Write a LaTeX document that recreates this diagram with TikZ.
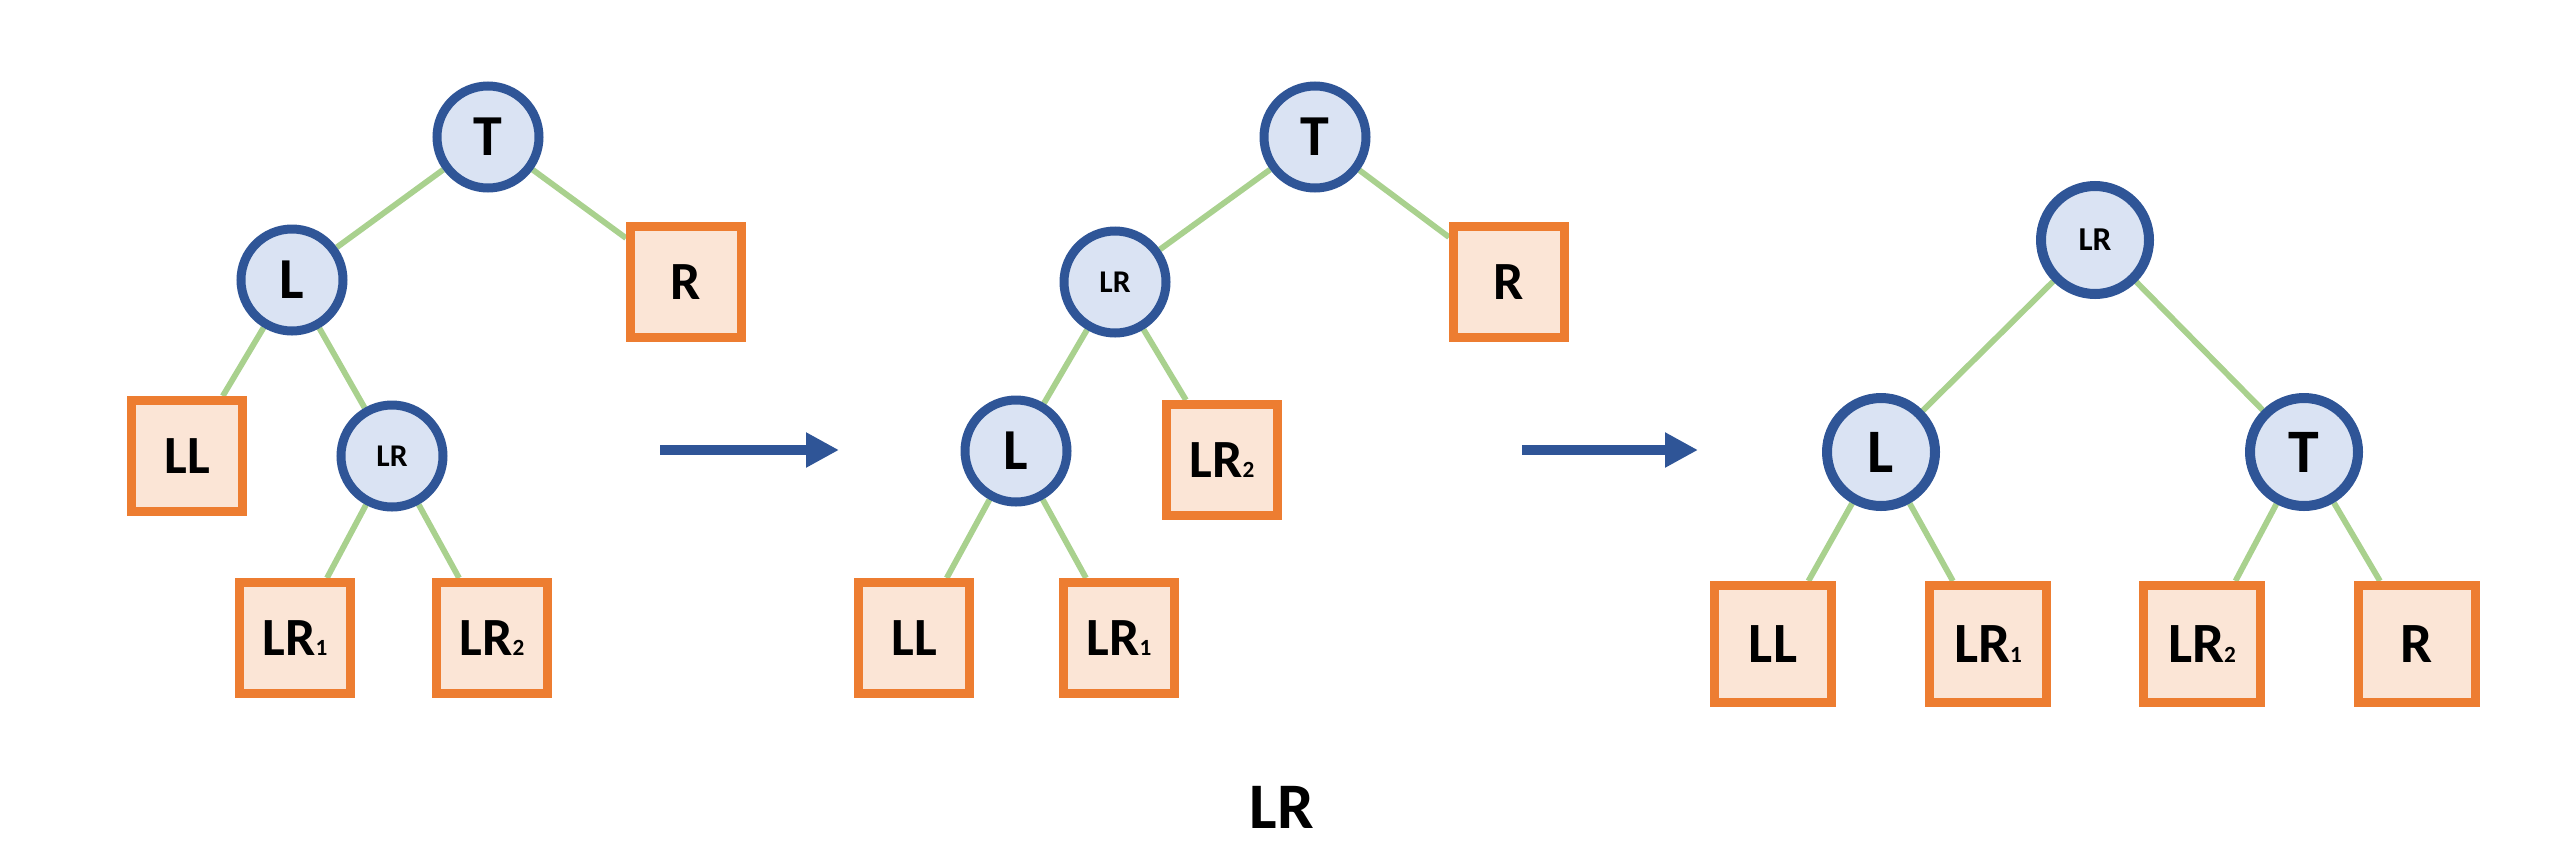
\documentclass[tikz,border=0pt]{standalone}
\usepackage{fontspec}
\setmainfont{Carlito}
\usetikzlibrary{arrows.meta,backgrounds}
\definecolor{knotc}{HTML}{2F5597}
\definecolor{knotfill}{HTML}{DAE3F3}
\definecolor{leafc}{HTML}{ED7D31}
\definecolor{leaffill}{HTML}{FBE5D6}
\definecolor{linkc}{HTML}{A9D18E}
\newcommand{\subidx}[1]{{\fontsize{6.6}{7}\selectfont #1}}

\begin{document}
\begin{tikzpicture}[x=1cm, y=1cm,
  knot/.style={circle, draw=knotc, fill=knotfill, line width=0.09cm, minimum size=1.02cm, inner sep=0pt, font=\bfseries\fontsize{16.5}{18}\selectfont},
  lrtext/.style={font=\bfseries\fontsize{9}{10}\selectfont},
  leaf/.style={rectangle, draw=leafc, fill=leaffill, line width=0.09cm, minimum size=1.11cm, inner sep=0pt, font=\bfseries\fontsize{15.3}{17}\selectfont},
  link/.style={linkc, line width=0.058cm},
  move/.style={knotc, line width=0.107cm, -{Triangle[length=0.33cm, width=0.33cm]}}]
  \useasboundingbox (0,0) rectangle (25.6,8.59);
  % tree before rotation
  \node[knot] (T1) at (4.88,7.22) {T};
  \node[knot] (L1) at (2.92,5.79) {L};
  \node[leaf] (R1) at (6.86,5.77) {R};
  \node[leaf] (LL1) at (1.87,4.03) {LL};
  \node[knot, lrtext] (LR1) at (3.92,4.03) {LR};
  \node[leaf] (LRa1) at (2.95,2.21) {LR\subidx{1}};
  \node[leaf] (LRb1) at (4.92,2.21) {LR\subidx{2}};
  % after first rotation
  \node[knot] (T2) at (13.15,7.22) {T};
  \node[knot, lrtext] (LR2) at (11.15,5.77) {LR};
  \node[leaf] (R2) at (15.09,5.77) {R};
  \node[knot] (L2) at (10.16,4.08) {L};
  \node[leaf] (LRb2) at (12.22,3.99) {LR\subidx{2}};
  \node[leaf] (LL2) at (9.14,2.21) {LL};
  \node[leaf] (LRa2) at (11.19,2.21) {LR\subidx{1}};
  % after second rotation (slightly larger)
  \begin{scope}[knot/.append style={line width=0.1cm, minimum size=1.08cm, font=\bfseries\fontsize{17.6}{19}\selectfont},
      lrtext/.append style={font=\bfseries\fontsize{9.5}{10}\selectfont},
      leaf/.append style={minimum size=1.17cm, font=\bfseries\fontsize{16.2}{18}\selectfont}]
    \node[knot, lrtext] (LR3) at (20.95,6.19) {LR};
    \node[knot] (L3) at (18.81,4.07) {L};
    \node[knot] (T3) at (23.04,4.07) {T};
    \node[leaf] (LL3) at (17.73,2.15) {LL};
    \node[leaf] (LRa3) at (19.88,2.15) {LR\subidx{1}};
    \node[leaf] (LRb3) at (22.02,2.15) {LR\subidx{2}};
    \node[leaf] (R3) at (24.17,2.15) {R};
  \end{scope}
  % edges
  \begin{scope}[on background layer]
    \draw[link] (T1) -- (L1) (T1) -- (R1) (L1) -- (LL1) (L1) -- (LR1) (LR1) -- (LRa1) (LR1) -- (LRb1);
    \draw[link] (T2) -- (LR2) (T2) -- (R2) (LR2) -- (L2) (LR2) -- (LRb2) (L2) -- (LL2) (L2) -- (LRa2);
    \draw[link] (LR3) -- (L3) (LR3) -- (T3) (L3) -- (LL3) (L3) -- (LRa3) (T3) -- (LRb3) (T3) -- (R3);
  \end{scope}
  % rotation arrows
  \coordinate (m1s) at (6.60,4.09); \coordinate (m1e) at (8.39,4.09);
  \coordinate (m2s) at (15.22,4.09); \coordinate (m2e) at (16.98,4.09);
  \draw[move] (m1s) -- (m1e);
  \draw[move] (m2s) -- (m2e);
  % caption
  \node[font=\bfseries\fontsize{18.5}{20}\selectfont] (cap) at (12.82,0.52) {LR};
\end{tikzpicture}
\end{document}
